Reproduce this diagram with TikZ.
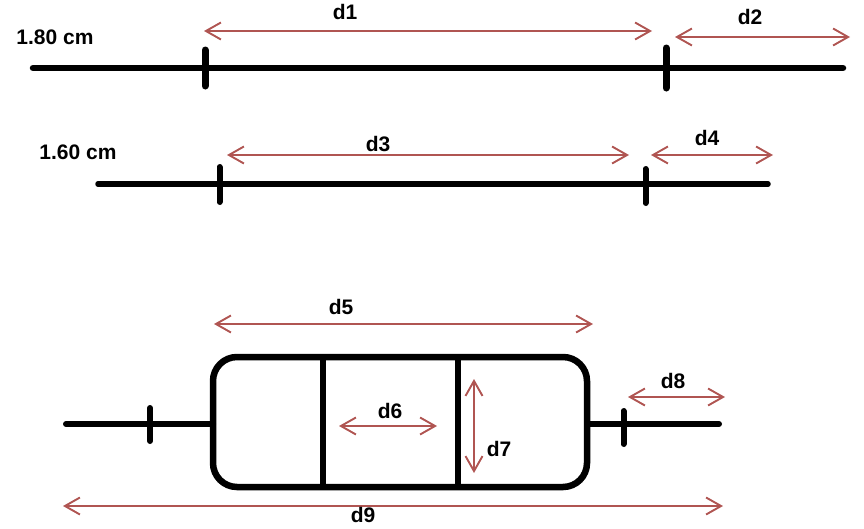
\documentclass[tikz,border=0pt]{standalone}
\usepackage{fontspec}
\setmainfont{Liberation Sans}
\usetikzlibrary{arrows.meta}
\definecolor{dimred}{HTML}{B05552}
\tikzset{
  x=1pt,y=-1pt,
  thick line/.style={line width=#1,line cap=round,black},
  dimline/.style={draw=dimred,line width=1.9pt,{Straight Barb[length=15pt,width=17pt,line width=1.9pt]}-{Straight Barb[length=15pt,width=17pt,line width=1.9pt]}},
  lab/.style={font=\fontsize{21}{23}\selectfont\bfseries,inner sep=0pt,text=black},
}
\begin{document}
\begin{tikzpicture}
\useasboundingbox (0,0) rectangle (864,528);
% first wire
\coordinate (a1) at (33,68); \coordinate (a2) at (843,68);
\draw[thick line=6.5pt] (a1) -- (a2);
\coordinate (t1a) at (205,50); \coordinate (t1b) at (205,86);
\coordinate (t2a) at (666,48); \coordinate (t2b) at (666,88);
\draw[thick line=7pt] (t1a) -- (t1b);
\draw[thick line=7pt] (t2a) -- (t2b);
\node[lab] (l180) at (55,37) {1.80 cm};
% second wire
\coordinate (b1) at (98,184); \coordinate (b2) at (768,184);
\draw[thick line=5.5pt] (b1) -- (b2);
\coordinate (t3a) at (219.5,167); \coordinate (t3b) at (219.5,202);
\coordinate (t4a) at (645.5,169); \coordinate (t4b) at (645.5,203);
\draw[thick line=6pt] (t3a) -- (t3b);
\draw[thick line=6pt] (t4a) -- (t4b);
\node[lab] (l160) at (78,152) {1.60 cm};
% component
\coordinate (cl) at (213,424); \coordinate (cr) at (587,424);
\coordinate (c1) at (66,424); \coordinate (c2) at (719,424);
\draw[thick line=6pt] (c1) -- (cl);
\draw[thick line=6pt] (cr) -- (c2);
\draw[line width=6.5pt,rounded corners=24pt,black] (213,357) rectangle (587,487);
\coordinate (v1a) at (323,357); \coordinate (v1b) at (323,487);
\coordinate (v2a) at (458,357); \coordinate (v2b) at (458,487);
\draw[line width=5.5pt] (v1a) -- (v1b);
\draw[line width=5.5pt] (v2a) -- (v2b);
\coordinate (t5a) at (150,408); \coordinate (t5b) at (150,441);
\coordinate (t6a) at (623.5,411); \coordinate (t6b) at (623.5,444);
\draw[thick line=6pt] (t5a) -- (t5b);
\draw[thick line=6pt] (t6a) -- (t6b);
% dimensions
\coordinate (d1a) at (204,31); \coordinate (d1b) at (652,31);
\coordinate (d2a) at (675,37); \coordinate (d2b) at (850,37);
\coordinate (d3a) at (227,155); \coordinate (d3b) at (629,155);
\coordinate (d4a) at (651,155); \coordinate (d4b) at (773,155);
\coordinate (d5a) at (214,324); \coordinate (d5b) at (593,324);
\coordinate (d6a) at (339,426); \coordinate (d6b) at (437,426);
\coordinate (d7a) at (474,379); \coordinate (d7b) at (474,473);
\coordinate (d8a) at (628,397); \coordinate (d8b) at (725,397);
\coordinate (d9a) at (63,506); \coordinate (d9b) at (723,506);
\foreach \n in {1,...,9} {\draw[dimline] (d\n a) -- (d\n b);}
\node[lab] (n1) at (345,12) {d1};
\node[lab] (n2) at (750,17) {d2};
\node[lab] (n3) at (378,144) {d3};
\node[lab] (n4) at (707,138) {d4};
\node[lab] (n5) at (341,307) {d5};
\node[lab] (n6) at (390,411) {d6};
\node[lab] (n7) at (499,449) {d7};
\node[lab] (n8) at (673,381) {d8};
\node[lab] (n9) at (363,515) {d9};
\end{tikzpicture}
\end{document}
